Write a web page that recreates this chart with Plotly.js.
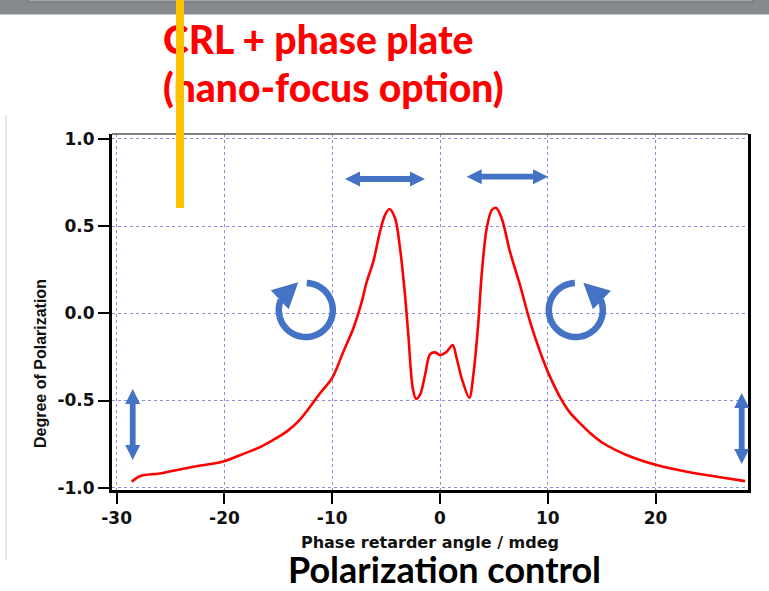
<!DOCTYPE html>
<html>
<head>
<meta charset="utf-8">
<script src="https://cdn.plot.ly/plotly-3.0.1.min.js"></script>
<style>html,body{margin:0;padding:0;background:#fff;}#chart{width:769px;height:591px;}</style>
</head>
<body>
<div id="chart"></div>
<script>
// ---- data ----
const angle = [-28.6, -27.8, -26.0, -22.9, -20.2, -18.5, -16.7, -15.5, -14.2, -13.1, -12.06, -11.13, -10.0, -8.97, -8.04, -7.26, -6.8, -6.19, -5.57, -5.1, -4.7, -4.17, -3.71, -3.25, -2.94, -2.53, -2.23, -1.86, -1.39, -0.93, -0.46, 0, 0.62, 1.17, 1.55, 2.01, 2.72, 3.09, 3.56, 3.86, 4.33, 4.8, 5.19, 5.72, 6.49, 7.42, 8.35, 9.28, 10.2, 11.13, 12.0, 12.99, 14.0, 15.15, 17.3, 20.1, 22.9, 25.7, 28.3];
const polarization = [-0.966, -0.933, -0.918, -0.88, -0.851, -0.812, -0.767, -0.727, -0.677, -0.617, -0.536, -0.458, -0.37, -0.22, -0.086, 0.067, 0.181, 0.296, 0.468, 0.564, 0.598, 0.545, 0.373, 0.105, -0.124, -0.43, -0.49, -0.468, -0.354, -0.235, -0.224, -0.239, -0.22, -0.182, -0.258, -0.373, -0.484, -0.354, -0.048, 0.22, 0.487, 0.592, 0.605, 0.545, 0.353, 0.162, -0.048, -0.22, -0.363, -0.48, -0.565, -0.631, -0.69, -0.745, -0.812, -0.87, -0.908, -0.937, -0.962];
const xTickVals = [-30, -20, -10, 0, 10, 20];
const xTickText = ['-30', '-20', '-10', '0', '10', '20'];
const yTickVals = [-1.0, -0.5, 0.0, 0.5, 1.0];
const yTickText = ['-1.0', '-0.5', '0.0', '0.5', '1.0'];
const titleLine1 = 'CRL + phase plate';
const titleLine2 = '(nano-focus option)';
const footer = 'Polarization control';
const xTitle = 'Phase retarder angle / mdeg';
const yTitle = 'Degree of Polarization';

// ---- layout geometry ----
const L = 112, T = 134, PW = 636, PH = 356, R = 769 - L - PW, B = 591 - T - PH;
const BLUE = '#4472C4';
function X(p) { return (p - L) / PW; }
function Y(p) { return (T + PH - p) / PH; }
function pathFrom(pts, close) {
  return pts.map((q, i) => (i ? 'L' : 'M') + X(q[0]).toFixed(5) + ',' + Y(q[1]).toFixed(5)).join(' ') + (close ? ' Z' : '');
}
function hArrow(x1, x2, y) {
  const hl = 15, hw = 7.5, sw = 2.9;
  return pathFrom([[x1, y], [x1 + hl, y - hw], [x1 + hl, y - sw], [x2 - hl, y - sw], [x2 - hl, y - hw], [x2, y],
    [x2 - hl, y + hw], [x2 - hl, y + sw], [x1 + hl, y + sw], [x1 + hl, y + hw]], true);
}
function vArrow(x, y1, y2) {
  const hl = 15, hw = 7.5, sw = 2.9;
  return pathFrom([[x, y1], [x + hw, y1 + hl], [x + sw, y1 + hl], [x + sw, y2 - hl], [x + hw, y2 - hl], [x, y2],
    [x - hw, y2 - hl], [x - sw, y2 - hl], [x - sw, y1 + hl], [x - hw, y1 + hl]], true);
}
function arc(cx, cy, r, a0, a1) {
  const pts = [], n = 48;
  for (let i = 0; i <= n; i++) {
    const a = (a0 + (a1 - a0) * i / n) * Math.PI / 180;
    pts.push([cx + r * Math.cos(a), cy - r * Math.sin(a)]);
  }
  return pathFrom(pts, false);
}
function fillShape(path, color, layer) {
  return { type: 'path', xref: 'paper', yref: 'paper', path: path, fillcolor: color, line: { width: 0 }, layer: layer || 'above' };
}

const shapes = [
  // grey window strip at top
  { type: 'rect', xref: 'paper', yref: 'paper', x0: X(0), x1: X(769), y0: Y(14.5), y1: Y(-2), fillcolor: '#86898d', line: { width: 0 }, layer: 'above' },
  { type: 'rect', xref: 'paper', yref: 'paper', x0: X(28), x1: X(753), y0: Y(2), y1: Y(-4), fillcolor: '#a3a6a9', line: { width: 1, color: '#6c6f73' }, layer: 'above' },
  // faint vertical line at left edge
  { type: 'line', xref: 'paper', yref: 'paper', x0: X(6), x1: X(6), y0: Y(115), y1: Y(560), line: { width: 1, color: '#cfcfcf' }, layer: 'above' },
  // top frame line
  { type: 'line', xref: 'paper', yref: 'paper', x0: 0, x1: 1, y0: 1, y1: 1, line: { width: 1.5, color: '#555' }, layer: 'above' },
  // linear polarization arrows
  fillShape(hArrow(345, 425, 179), BLUE),
  fillShape(hArrow(466.7, 548, 176.7), BLUE),
  fillShape(vArrow(132.7, 389, 460), BLUE),
  fillShape(vArrow(741.7, 393, 464), BLUE),
  // circular polarization arrows
  { type: 'path', xref: 'paper', yref: 'paper', path: arc(305.8, 310, 27, 88, -202), line: { width: 6.5, color: BLUE }, fillcolor: 'rgba(0,0,0,0)', layer: 'above' },
  fillShape(pathFrom([[298.3, 282.2], [270.7, 290.2], [288.7, 309.3]], true), BLUE),
  { type: 'path', xref: 'paper', yref: 'paper', path: arc(575.8, 310, 27, 92, 382), line: { width: 6.5, color: BLUE }, fillcolor: 'rgba(0,0,0,0)', layer: 'above' },
  fillShape(pathFrom([[583.3, 282.8], [611, 290.7], [593, 309.3]], true), BLUE)
];

const annotations = [
  { xref: 'paper', yref: 'paper', x: X(161), y: Y(39), xanchor: 'left', yanchor: 'middle', showarrow: false,
    text: titleLine1, font: { family: 'Lato', size: 39, color: '#ff0000', weight: 900 } },
  { xref: 'paper', yref: 'paper', x: X(161), y: Y(87), xanchor: 'left', yanchor: 'middle', showarrow: false,
    text: titleLine2, font: { family: 'Lato', size: 39, color: '#ff0000', weight: 900 } },
  { xref: 'paper', yref: 'paper', x: X(444), y: Y(592), xanchor: 'center', yanchor: 'bottom', showarrow: false, borderpad: 0,
    text: footer, font: { family: 'Lato', size: 36, color: '#000', weight: 'bold' } },
  { xref: 'paper', yref: 'paper', x: X(40), y: Y(364), xanchor: 'center', yanchor: 'middle', showarrow: false, textangle: -90,
    text: yTitle, font: { family: 'Liberation Sans, Arial, sans-serif', size: 16, color: '#111', weight: 'bold' } },
  // orange marker bar drawn on top of the red heading
  { xref: 'paper', yref: 'paper', x: X(180), y: Y(104), xanchor: 'center', yanchor: 'middle', showarrow: false,
    text: ' ', width: 8, height: 208, bgcolor: '#FFC000', borderpad: 0, borderwidth: 0 }
];

const trace = {
  x: angle, y: polarization, type: 'scatter', mode: 'lines',
  line: { color: '#ff0000', width: 2.6, shape: 'spline', smoothing: 0.9 },
  hoverinfo: 'skip'
};

const tickFont = { family: 'DejaVu Sans, sans-serif', size: 17, color: '#111', weight: 'bold' };
const layout = {
  width: 769, height: 591,
  margin: { l: L, r: R, t: T, b: B, pad: 0 },
  paper_bgcolor: '#ffffff', plot_bgcolor: '#ffffff',
  showlegend: false,
  xaxis: {
    range: [-30.43, 28.57], tickvals: xTickVals, ticktext: xTickText,
    ticks: 'outside', ticklen: 11, tickwidth: 2, tickcolor: '#000',
    showline: true, linewidth: 3, linecolor: '#000', mirror: false,
    showgrid: true, gridcolor: '#8f8fd6', griddash: 'dot', gridwidth: 1, zeroline: false,
    tickfont: tickFont,
    title: { text: xTitle, font: { family: 'DejaVu Sans, sans-serif', size: 16, color: '#111', weight: 'bold' }, standoff: 10 }
  },
  yaxis: {
    range: [-1.013, 1.028], tickvals: yTickVals, ticktext: yTickText,
    ticks: 'outside', ticklen: 11, tickwidth: 2, tickcolor: '#000',
    showline: true, linewidth: 3, linecolor: '#000', mirror: true,
    showgrid: true, gridcolor: '#8f8fd6', griddash: 'dot', gridwidth: 1, zeroline: false,
    tickfont: tickFont
  },
  shapes: shapes,
  annotations: annotations
};

Plotly.newPlot('chart', [trace], layout, { staticPlot: true, displayModeBar: false });
</script>
</body>
</html>
